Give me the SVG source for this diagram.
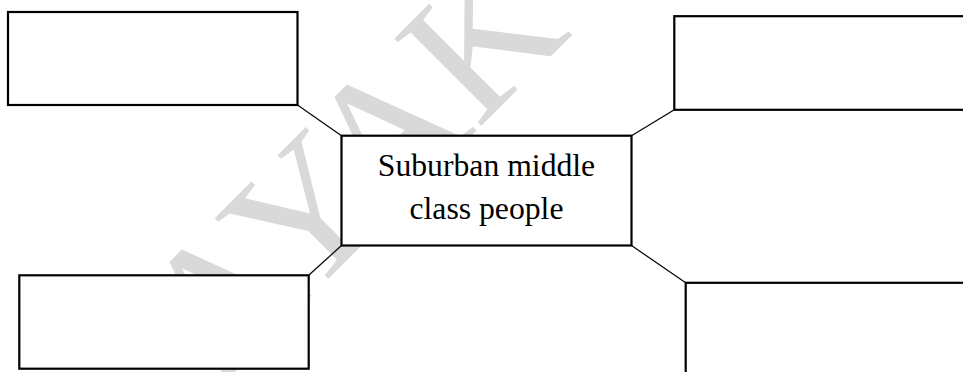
<svg xmlns="http://www.w3.org/2000/svg" width="963" height="372" viewBox="0 0 963 372">
  <style>
    .box { fill: #ffffff; stroke: #000000; stroke-width: 2.2; }
    .conn { stroke: #000000; stroke-width: 1.2; fill: none; }
    .label { font-family: "Liberation Serif", "Times New Roman", serif; font-size: 31.7px; fill: #000000; text-anchor: middle; }
    .wm { font-family: "Liberation Serif", "Times New Roman", serif; font-size: 188px; fill: #d9d9d9; }
  </style>
  <rect x="0" y="0" width="963" height="372" fill="#ffffff"/>
  <g id="watermark">
    <text class="wm" transform="translate(216.5,390.5) rotate(-45)">AYAK</text>
  </g>
  <g id="connectors">
    <line class="conn" x1="297.5" y1="105" x2="341.5" y2="135.7"/>
    <line class="conn" x1="308.7" y1="275.3" x2="341.5" y2="245.5"/>
    <line class="conn" x1="631.5" y1="135.7" x2="674.3" y2="109.8"/>
    <line class="conn" x1="631.5" y1="245.5" x2="685.7" y2="282.8"/>
  </g>
  <g id="node-top-left">
    <rect class="box" x="8" y="12" width="289.5" height="93"/>
  </g>
  <g id="node-bottom-left">
    <rect class="box" x="19.3" y="275.3" width="289.4" height="93.4"/>
  </g>
  <g id="node-top-right">
    <rect class="box" x="674.3" y="16.2" width="300" height="93.6"/>
  </g>
  <g id="node-bottom-right">
    <rect class="box" x="685.7" y="282.8" width="300" height="100"/>
  </g>
  <g id="node-center">
    <rect class="box" x="341.5" y="135.7" width="290" height="109.8"/>
    <text class="label" x="486.5" y="176">Suburban middle</text>
    <text class="label" x="486.5" y="218.5">class people</text>
  </g>
</svg>
